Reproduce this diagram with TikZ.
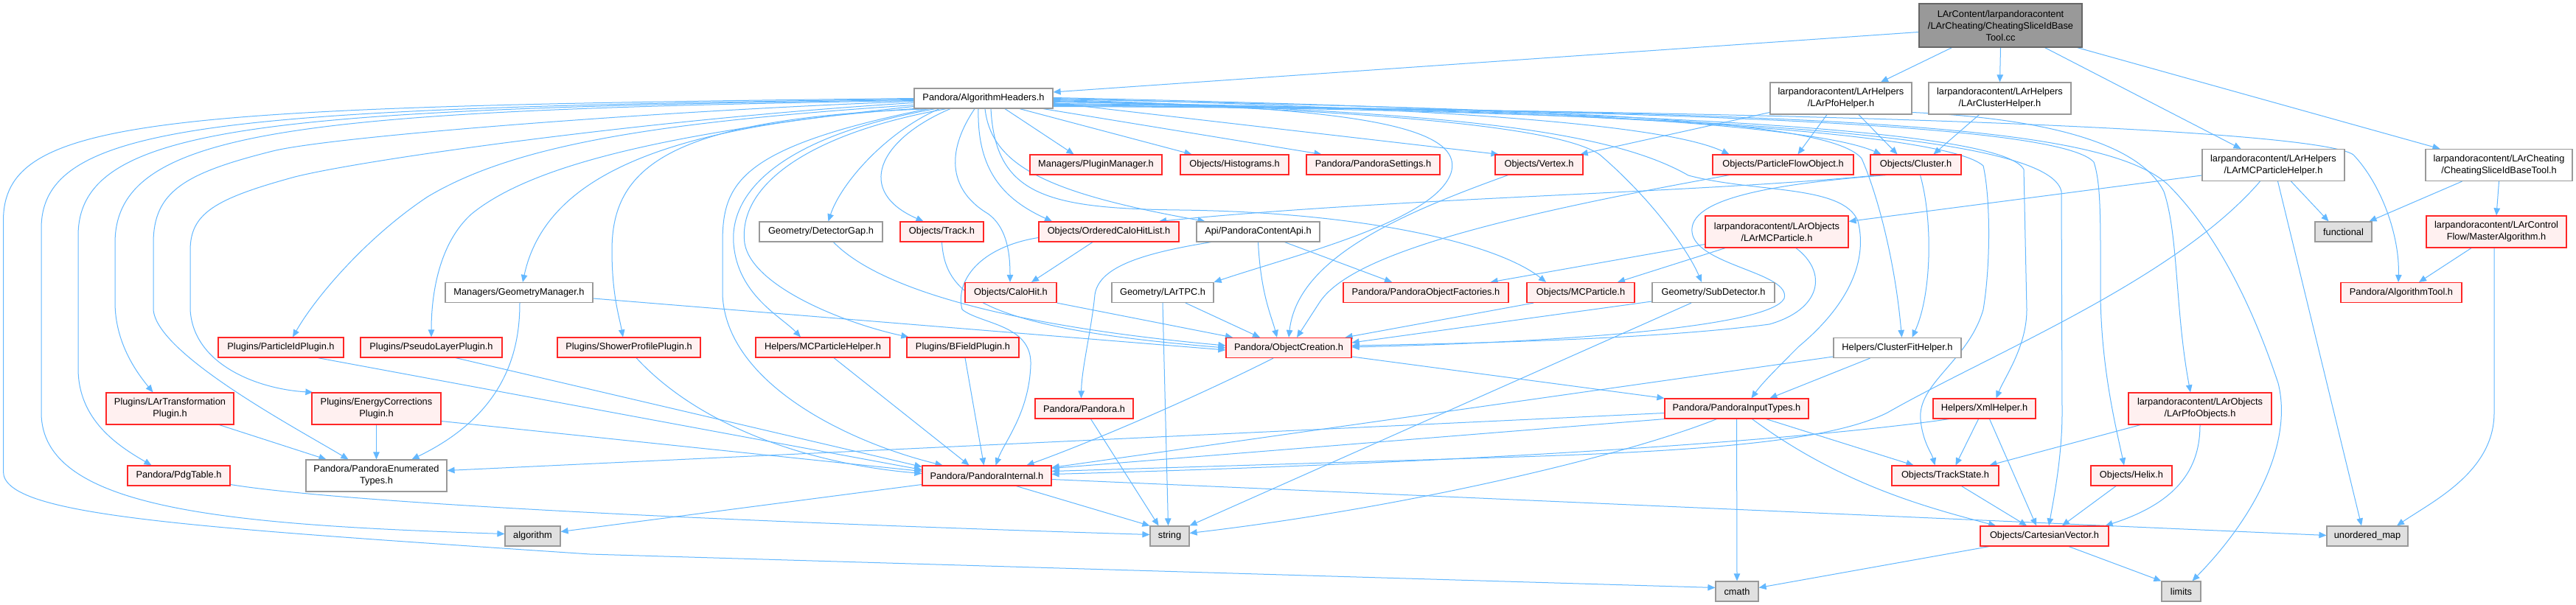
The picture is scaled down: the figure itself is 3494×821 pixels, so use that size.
\documentclass[tikz,border=0pt]{standalone}
\usepackage{fontspec}
\setmainfont{Liberation Sans}
\usetikzlibrary{arrows.meta}
\definecolor{dxedge}{HTML}{63B8FF}
\definecolor{dxred}{HTML}{FF2626}
\definecolor{dxredfill}{HTML}{FFF0F0}
\definecolor{dxgray}{HTML}{999999}
\definecolor{dxsys}{HTML}{E0E0E0}
\definecolor{dxroot}{HTML}{999999}
\definecolor{dxdark}{HTML}{666666}
\newcommand{\dxfont}{\fontsize{12.8}{16}\selectfont}
\pgfdeclarelayer{bg}
\pgfsetlayers{bg,main}
\begin{document}
\begin{tikzpicture}[x=1pt,y=-1pt,
  nd/.style={draw, rectangle, inner sep=0pt, align=center, line width=1.2pt, font=\dxfont, text=black},
  rd/.style={nd, draw=dxred, fill=dxredfill},
  wt/.style={nd, draw=dxgray, fill=white},
  sy/.style={nd, draw=dxgray, fill=dxsys},
  rt/.style={nd, draw=dxdark, fill=dxroot},
  sz/.style 2 args={minimum width=#1pt, minimum height=#2pt},
  ed/.style={draw=dxedge, line width=1pt, -{Triangle[length=10pt,width=8.5pt]}}]
\useasboundingbox (0,0) rectangle (3494,821);

% ---------- nodes ----------
\node[rt, sz={221}{59}] (root) at (2713.5,34.5) {LArContent/larpandoracontent\\/LArCheating/CheatingSliceIdBase\\Tool.cc};
\node[wt, sz={188}{27}] (ah) at (1334,133.5) {Pandora/AlgorithmHeaders.h};
\node[wt, sz={192}{43}] (pfoh) at (2497,133.5) {larpandoracontent/LArHelpers\\/LArPfoHelper.h};
\node[wt, sz={193}{43}] (clh) at (2712.5,133.5) {larpandoracontent/LArHelpers\\/LArClusterHelper.h};
\node[wt, sz={193}{43}] (mcph) at (3083.5,224) {larpandoracontent/LArHelpers\\/LArMCParticleHelper.h};
\node[wt, sz={199}{43}] (cstool) at (3389.5,224) {larpandoracontent/LArCheating\\/CheatingSliceIdBaseTool.h};
\node[sy, sz={77}{27}] (functional) at (3178.5,314.5) {functional};
\node[rd, sz={190}{43}] (master) at (3386,314.5) {larpandoracontent/LArControl\\Flow/MasterAlgorithm.h};
\node[rd, sz={164}{27}] (algtool) at (3257,397) {Pandora/AlgorithmTool.h};

\node[rd, sz={179}{27}] (pluginmgr) at (1486.5,223.5) {Managers/PluginManager.h};
\node[rd, sz={147}{27}] (histo) at (1674.5,223.5) {Objects/Histograms.h};
\node[rd, sz={181}{27}] (settings) at (1862.5,223.5) {Pandora/PandoraSettings.h};
\node[rd, sz={119}{27}] (vertex) at (2087.5,223.5) {Objects/Vertex.h};
\node[rd, sz={191}{27}] (pfo) at (2418.5,223.5) {Objects/ParticleFlowObject.h};
\node[rd, sz={123}{27}] (cluster) at (2598.5,223.5) {Objects/Cluster.h};

\node[wt, sz={167}{27}] (detgap) at (1113.5,314.5) {Geometry/DetectorGap.h};
\node[rd, sz={113}{27}] (track) at (1277.5,314.5) {Objects/Track.h};
\node[rd, sz={190}{27}] (ochl) at (1504,314.5) {Objects/OrderedCaloHitList.h};
\node[wt, sz={167}{27}] (api) at (1706.5,314.5) {Api/PandoraContentApi.h};
\node[rd, sz={194}{43}] (larmcp) at (2410,314.5) {larpandoracontent/LArObjects\\/LArMCParticle.h};

\node[wt, sz={200}{27}] (geomgr) at (704,397) {Managers/GeometryManager.h};
\node[rd, sz={124}{27}] (calohit) at (1371,397) {Objects/CaloHit.h};
\node[wt, sz={138}{27}] (lartpc) at (1577,397) {Geometry/LArTPC.h};
\node[rd, sz={224}{27}] (factories) at (1934,397) {Pandora/PandoraObjectFactories.h};
\node[rd, sz={146}{27}] (mcp) at (2144,397) {Objects/MCParticle.h};
\node[wt, sz={166}{27}] (subdet) at (2324,397) {Geometry/SubDetector.h};

\node[rd, sz={170}{27}] (pidplugin) at (381,471.5) {Plugins/ParticleIdPlugin.h};
\node[rd, sz={192}{27}] (pseudo) at (585,471.5) {Plugins/PseudoLayerPlugin.h};
\node[rd, sz={194}{27}] (shower) at (853,471.5) {Plugins/ShowerProfilePlugin.h};
\node[rd, sz={182}{27}] (mchelper) at (1116,471.5) {Helpers/MCParticleHelper.h};
\node[rd, sz={152}{27}] (bfield) at (1306,471.5) {Plugins/BFieldPlugin.h};
\node[rd, sz={170}{27}] (objcreation) at (1748,472) {Pandora/ObjectCreation.h};
\node[wt, sz={173}{27}] (cfh) at (2573.5,472) {Helpers/ClusterFitHelper.h};

\node[rd, sz={173}{43}] (lartrans) at (230.5,554.5) {Plugins/LArTransformation\\Plugin.h};
\node[rd, sz={175}{43}] (energycorr) at (510.5,554.5) {Plugins/EnergyCorrections\\Plugin.h};
\node[rd, sz={133}{27}] (pandora) at (1470.5,554.5) {Pandora/Pandora.h};
\node[rd, sz={195}{27}] (inputtypes) at (2355.5,554.5) {Pandora/PandoraInputTypes.h};
\node[rd, sz={139}{27}] (xmlhelper) at (2691.5,554.5) {Helpers/XmlHelper.h};
\node[rd, sz={194}{43}] (pfoobjects) at (2984,554.5) {larpandoracontent/LArObjects\\/LArPfoObjects.h};

\node[rd, sz={139}{27}] (pdgtable) at (242.5,645.5) {Pandora/PdgTable.h};
\node[wt, sz={191}{43}] (enumtypes) at (510.5,645.5) {Pandora/PandoraEnumerated\\Types.h};
\node[rd, sz={175}{27}] (internal) at (1338.5,645.5) {Pandora/PandoraInternal.h};
\node[rd, sz={145}{27}] (trackstate) at (2638.5,645.5) {Objects/TrackState.h};
\node[rd, sz={110}{27}] (helix) at (2891,645.5) {Objects/Helix.h};

\node[sy, sz={75}{27}] (algorithm) at (722.5,727.5) {algorithm};
\node[sy, sz={53}{27}] (string) at (1586.5,727.5) {string};
\node[rd, sz={174}{27}] (cartesian) at (2773,727.5) {Objects/CartesianVector.h};
\node[sy, sz={110}{27}] (unordered) at (3211,727.5) {unordered\_map};
\node[sy, sz={58}{27}] (cmath) at (2356,802.5) {cmath};
\node[sy, sz={53}{27}] (limits) at (2958.5,802.5) {limits};

% ---------- edges ----------
\begin{pgfonlayer}{bg}
\fill[white] (0,0) rectangle (3494,821);
% root
\draw[ed] ([yshift=-9pt]root.west) -- ([yshift=8.5pt]ah.east);
\draw[ed] ([xshift=-66pt]root.south) -- ([xshift=54pt]pfoh.north);
\draw[ed] (root.south) -- (clh.north);
\draw[ed] ([xshift=60pt]root.south) -- ([xshift=-44pt]mcph.north);
\draw[ed] ([xshift=104pt]root.south) -- ([xshift=-80pt]cstool.north);
% cheating tool, master, mc particle helper
\draw[ed] ([xshift=-50pt]cstool.south) -- ([xshift=35pt]functional.north);
\draw[ed] (cstool.south) -- (master.north);
\draw[ed] ([xshift=-34pt]master.south) -- ([xshift=24pt]algtool.north);
\draw[ed] ([xshift=-3pt]master.south) -- (3383,560) .. controls (3383,640) and (3300,680) .. ([xshift=40pt]unordered.north);
\draw[ed] ([xshift=24pt]mcph.south) -- ([xshift=-20pt]functional.north);
\draw[ed] ([xshift=6pt]mcph.south) -- ([xshift=-8pt]unordered.north);
\draw[ed] ([yshift=-14pt]mcph.west) -- ([yshift=14pt]larmcp.east);
\draw[ed] ([xshift=-18pt]mcph.south) .. controls (2950,380) and (2700,480) .. (2560,560) .. controls (2480,600) and (2300,612) .. (2060,620) -- ([yshift=6pt]internal.east);
% pfo helper, cluster helper
\draw[ed] ([yshift=-19pt]pfoh.west) -- ([xshift=-4pt]vertex.north east);
\draw[ed] ([xshift=-19pt]pfoh.south) -- ([xshift=20pt]pfo.north);
\draw[ed] ([xshift=24pt]pfoh.south) -- ([xshift=-25pt]cluster.north);
\draw[ed] ([yshift=-19pt]pfoh.east) .. controls (2760,160) and (2900,190) .. (2935,260) .. controls (2955,320) and (2950,420) .. ([xshift=-13pt]pfoobjects.north);
\draw[ed] ([xshift=-28pt]clh.south) -- ([xshift=24pt]cluster.north);
% LArMCParticle
\draw[ed] ([xshift=-70pt]larmcp.south) -- ([xshift=50pt]mcp.north);
\draw[ed] ([yshift=-17pt]larmcp.west) -- ([xshift=-25pt]factories.north east);
\draw[ed] ([xshift=26pt]larmcp.south) .. controls (2480,370) and (2470,420) .. (2400,440) .. controls (2250,460) and (2000,466) .. ([yshift=3pt]objcreation.east);
% cluster
\draw[ed] ([xshift=-50pt]cluster.south) .. controls (2300,262) and (1900,268) .. ([xshift=68pt]ochl.north);
\draw[ed] ([xshift=-40pt]cluster.south) .. controls (2400,250) and (2290,270) .. (2295,315) .. controls (2300,360) and (2430,370) .. (2420,405) .. controls (2400,445) and (2100,465) .. ([yshift=1pt]objcreation.east);
\draw[ed] ([xshift=6pt]cluster.south) .. controls (2622,300) and (2620,400) .. ([xshift=20pt]cfh.north);
% pfo, vertex
\draw[ed] ([xshift=-73pt]pfo.south) .. controls (2000,300) and (1830,350) .. (1790,410) -- ([xshift=11pt]objcreation.north);
\draw[ed] ([xshift=-42pt]vertex.south) .. controls (1900,290) and (1760,350) .. (objcreation.north);
% AlgorithmHeaders, south side
\draw[ed] ([xshift=29pt]ah.south) -- ([xshift=-30pt]pluginmgr.north);
\draw[ed] ([xshift=49pt]ah.south) -- ([xshift=-58pt]histo.north);
\draw[ed] ([xshift=81pt]ah.south) -- ([xshift=-70pt]settings.north);
\draw[ed] ([xshift=-60pt]ah.south) .. controls (1200,180) and (1140,250) .. ([xshift=10pt]detgap.north);
\draw[ed] ([xshift=-45pt]ah.south) .. controls (1190,190) and (1160,260) .. ([xshift=-25pt]track.north);
\draw[ed] ([xshift=-12pt]ah.south) .. controls (1280,210) and (1290,260) .. (1340,290) .. controls (1368,310) and (1370,350) .. ([xshift=-1pt]calohit.north);
\draw[ed] ([xshift=-7pt]ah.south) .. controls (1325,230) and (1360,270) .. ([xshift=-77pt]ochl.north);
\draw[ed] ([xshift=2pt]ah.south) .. controls (1345,225) and (1420,262) .. ([xshift=-72pt]api.north);
\draw[ed] ([xshift=10pt]ah.south) .. controls (1350,265) and (1420,283) .. (1600,285) .. controls (1850,288) and (2030,330) .. ([xshift=-47pt]mcp.north);
\draw[ed] (ah.south west) .. controls (900,170) and (740,240) .. ([xshift=5pt]geomgr.north);
\draw[ed] ([xshift=-70pt]ah.south) .. controls (900,160) and (830,230) .. (830,340) .. controls (830,400) and (840,430) .. ([xshift=-8pt]shower.north);
\draw[ed] ([xshift=-65pt]ah.south) .. controls (1060,185) and (990,260) .. (995,330) .. controls (1000,400) and (1060,430) .. ([xshift=-30pt]mchelper.north);
\draw[ed] ([xshift=-50pt]ah.south) .. controls (1100,180) and (1000,250) .. (1010,330) .. controls (1020,390) and (1150,440) .. ([xshift=3pt]bfield.north west);
\draw[ed] ([xshift=-75pt]ah.south) .. controls (1000,200) and (980,250) .. (980,330) -- (980,400) .. controls (985,520) and (1150,600) .. ([xshift=-60pt]internal.north);
% AlgorithmHeaders, west side loops
\draw[ed] (ah.west) .. controls (200,145) and (4.5,160) .. (4.5,300) -- (4.5,640) .. controls (4.5,700) and (250,715) .. (800,752) -- ([yshift=5pt]cmath.west);
\draw[ed] ([yshift=-1pt]ah.west) .. controls (300,147) and (56,165) .. (56,310) -- (56,560) .. controls (56,690) and (300,712) .. ([yshift=3pt]algorithm.west);
\draw[ed] ([yshift=-2pt]ah.west) .. controls (350,148) and (106,170) .. (106,320) -- (106,500) .. controls (106,570) and (160,605) .. ([xshift=-37pt]pdgtable.north);
\draw[ed] ([yshift=-3pt]ah.west) .. controls (400,150) and (156,175) .. (156,330) -- (156,410) .. controls (156,465) and (185,505) .. ([xshift=-23pt]lartrans.north);
\draw[ed] ([yshift=-4pt]ah.west) .. controls (900,150) and (450,185) .. (370,205) .. controls (250,235) and (208,260) .. (208,330) -- (208,420) .. controls (212,480) and (400,580) .. ([xshift=-38pt]enumtypes.north);
\draw[ed] ([yshift=-6pt]ah.west) .. controls (900,160) and (500,215) .. (400,240) .. controls (290,270) and (258,290) .. (258,340) -- (258,420) .. controls (262,495) and (350,528) .. ([xshift=2pt]energycorr.north west);
\draw[ed] ([yshift=-9pt]ah.west) .. controls (900,165) and (700,195) .. (580,267) .. controls (500,320) and (430,400) .. ([xshift=16pt]pidplugin.north);
\draw[ed] ([yshift=-11pt]ah.west) .. controls (900,180) and (720,225) .. (640,290) .. controls (595,330) and (585,400) .. (pseudo.north);
% AlgorithmHeaders, east side
\draw[ed] ([yshift=-6pt]ah.east) -- ([xshift=-55pt]vertex.north);
\draw[ed] (ah.east) .. controls (1900,145) and (2250,165) .. ([xshift=-73pt]pfo.north);
\draw[ed] ([yshift=1pt]ah.east) .. controls (2000,145) and (2450,165) .. ([xshift=-47pt]cluster.north);
\draw[ed] ([yshift=-4pt]ah.east) .. controls (1900,150) and (2120,175) .. (2170,210) .. controls (2240,270) and (2290,340) .. ([xshift=-16pt]subdet.north);
\draw[ed] ([yshift=-2pt]ah.east) .. controls (1800,145) and (1990,165) .. (1968,235) .. controls (1945,300) and (1760,345) .. (lartpc.north east);
\draw[ed] ([yshift=-3pt]ah.east) .. controls (1950,150) and (2180,175) .. (2290,238) .. controls (2380,262) and (2500,250) .. (2520,300) .. controls (2535,360) and (2500,420) .. (2440,470) .. controls (2410,500) and (2390,520) .. ([xshift=20pt]inputtypes.north);
\draw[ed] ([yshift=-1pt]ah.east) .. controls (2100,148) and (2480,160) .. (2525,215) .. controls (2545,260) and (2570,350) .. ([xshift=6pt]cfh.north);
\draw[ed] ([yshift=-5pt]ah.east) .. controls (2200,150) and (2640,180) .. (2690,225) .. controls (2700,270) and (2700,360) .. (2690,420) .. controls (2670,490) and (2600,520) .. (2605,570) .. controls (2608,600) and (2620,615) .. ([xshift=-14pt]trackstate.north);
\draw[ed] ([yshift=-7pt]ah.east) .. controls (2300,150) and (2720,180) .. (2745,230) -- (2749,420) .. controls (2749,470) and (2720,510) .. ([xshift=16pt]xmlhelper.north);
\draw[ed] ([yshift=-8pt]ah.east) .. controls (2400,150) and (2800,175) .. (2840,220) .. controls (2850,250) and (2849,300) .. (2849,400) .. controls (2850,500) and (2870,580) .. ([xshift=-10pt]helix.north);
\draw[ed] ([yshift=-9pt]ah.east) .. controls (2300,152) and (2780,180) .. (2796,260) -- (2797,560) .. controls (2797,620) and (2785,680) .. ([xshift=6pt]cartesian.north);
\draw[ed] ([yshift=-10pt]ah.east) .. controls (2500,150) and (2850,170) .. (2940,250) .. controls (3000,310) and (3050,400) .. (3090,520) .. controls (3110,600) and (3060,700) .. ([xshift=15pt]limits.north);
\draw[ed] ([yshift=-11pt]ah.east) .. controls (2600,150) and (3150,180) .. (3192,210) .. controls (3230,250) and (3255,320) .. ([xshift=-4pt]algtool.north);
% geometry manager, gap, track, calo hits
\draw[ed] ([xshift=1pt]geomgr.south) .. controls (705,470) and (690,560) .. ([xshift=48pt]enumtypes.north);
\draw[ed] ([yshift=-8pt]geomgr.east) -- ([yshift=-3pt]objcreation.west);
\draw[ed] ([xshift=17pt]detgap.south) .. controls (1200,400) and (1400,445) .. ([yshift=3pt]objcreation.west);
\draw[ed] (track.south) .. controls (1282,400) and (1330,445) .. (objcreation.west);
\draw[ed] (calohit.south east) -- ([xshift=-76pt]objcreation.north);
\draw[ed] ([xshift=-22pt]ochl.south) -- ([xshift=28pt]calohit.north);
\draw[ed] ([yshift=-8pt]ochl.west) .. controls (1330,335) and (1295,380) .. (1305,420) .. controls (1330,440) and (1400,440) .. (1398,495) .. controls (1396,560) and (1362,600) .. ([xshift=12pt]internal.north);
% LArTPC, Api
\draw[ed] ([xshift=31pt]lartpc.south) -- ([xshift=-39pt]objcreation.north);
\draw[ed] (lartpc.south) -- ([xshift=-2pt]string.north);
\draw[ed] (api.south) .. controls (1710,400) and (1725,430) .. ([xshift=-16pt]objcreation.north);
\draw[ed] ([xshift=-64pt]api.south) .. controls (1540,345) and (1490,365) .. (1485,400) .. controls (1480,450) and (1467,500) .. ([xshift=-4pt]pandora.north);
\draw[ed] ([xshift=36pt]api.south) -- ([xshift=-46pt]factories.north);
% MCParticle, SubDetector
\draw[ed] ([xshift=-64pt]mcp.south) -- ([xshift=-9pt]objcreation.north east);
\draw[ed] ([yshift=-12pt]subdet.west) -- ([yshift=7pt]objcreation.east);
\draw[ed] ([xshift=-30pt]subdet.south) -- (string.north east);
% plugins and helpers to internal
\draw[ed] ([xshift=33pt]pseudo.south) -- ([yshift=12pt]internal.west);
\draw[ed] ([xshift=50pt]pidplugin.south) -- ([yshift=8pt]internal.west);
\draw[ed] ([yshift=-17pt]energycorr.east) -- ([yshift=6pt]internal.west);
\draw[ed] ([xshift=10pt]shower.south) .. controls (950,580) and (1100,630) .. ([yshift=3pt]internal.west);
\draw[ed] ([xshift=15pt]mchelper.south) -- ([xshift=-24pt]internal.north);
\draw[ed] ([xshift=3pt]bfield.south) -- ([xshift=-4pt]internal.north);
\draw[ed] ([xshift=67pt]lartrans.south) -- ([xshift=-68pt]enumtypes.north);
\draw[ed] (energycorr.south) -- (enumtypes.north);
% object creation, cluster fit helper
\draw[ed] ([yshift=-12pt]objcreation.east) -- (inputtypes.north west);
\draw[ed] ([xshift=-21pt]objcreation.south) .. controls (1620,540) and (1480,600) .. ([xshift=54pt]internal.north);
\draw[ed] ([xshift=-37pt]cfh.south) -- ([xshift=45pt]inputtypes.north);
\draw[ed] ([yshift=-12pt]cfh.west) -- ([yshift=11pt]internal.east);
% input types
\draw[ed] ([yshift=-6pt]inputtypes.west) -- ([yshift=7pt]enumtypes.east);
\draw[ed] (inputtypes.south west) -- ([yshift=10pt]internal.east);
\draw[ed] ([xshift=-27pt]inputtypes.south) .. controls (2200,620) and (1900,690) .. ([yshift=4pt]string.east);
\draw[ed] ([xshift=40pt]inputtypes.south) -- ([xshift=-43pt]trackstate.north);
\draw[ed] ([xshift=21pt]inputtypes.south) .. controls (2500,660) and (2620,690) .. ([xshift=-66pt]cartesian.north);
\draw[ed] (inputtypes.south) -- (cmath.north);
% xml, track state, pfo objects, helix, cartesian
\draw[ed] ([xshift=-48pt]xmlhelper.south) .. controls (2500,590) and (2100,625) .. ([yshift=2pt]internal.east);
\draw[ed] ([xshift=-8pt]xmlhelper.south) -- ([xshift=14pt]trackstate.north);
\draw[ed] ([xshift=7pt]xmlhelper.south) -- ([xshift=-11pt]cartesian.north);
\draw[ed] ([xshift=22pt]trackstate.south) -- ([xshift=-24pt]cartesian.north);
\draw[ed] ([xshift=-81pt]pfoobjects.south) -- ([xshift=60pt]trackstate.north);
\draw[ed] (pfoobjects.south) .. controls (2984,630) and (2960,680) .. ([xshift=-5pt]cartesian.north east);
\draw[ed] ([xshift=-21pt]helix.south) -- ([xshift=24pt]cartesian.north);
\draw[ed] ([xshift=-75pt]cartesian.south) -- ([yshift=5pt]cmath.east);
\draw[ed] ([xshift=33pt]cartesian.south) -- (limits.north west);
% internal, pandora, pdg table
\draw[ed] ([yshift=-12pt]internal.west) -- ([yshift=6pt]algorithm.east);
\draw[ed] ([xshift=40pt]internal.south) -- (string.north west);
\draw[ed] ([yshift=-5pt]internal.east) -- ([yshift=1pt]unordered.west);
\draw[ed] ([xshift=9pt]pandora.south) -- ([xshift=-15pt]string.north);
\draw[ed] ([yshift=-12pt]pdgtable.east) .. controls (450,680) and (900,705) .. ([yshift=2pt]string.west);
\end{pgfonlayer}
\end{tikzpicture}
\end{document}
